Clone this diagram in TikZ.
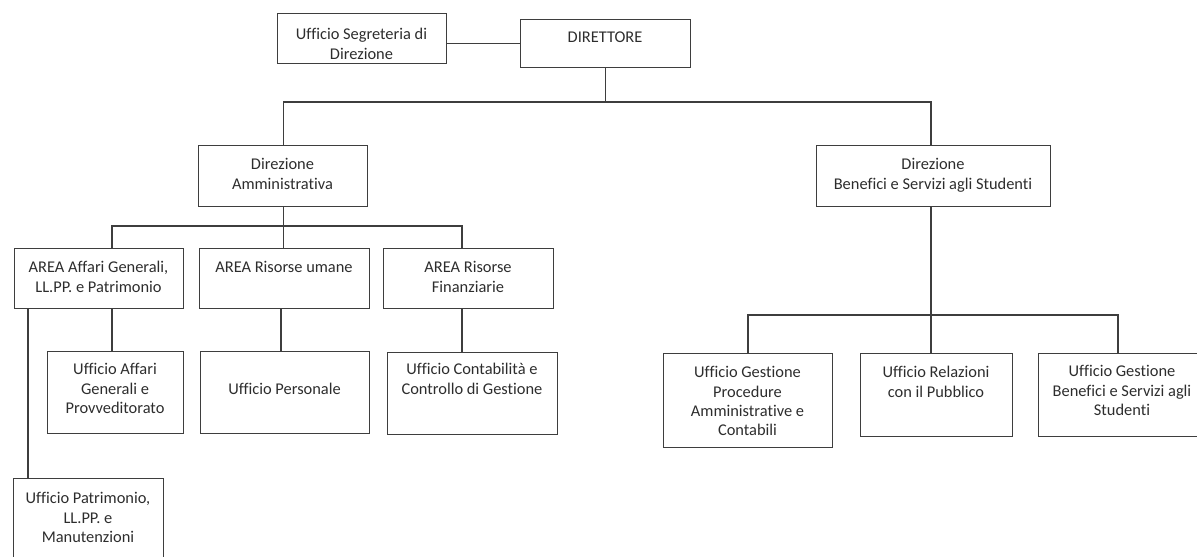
\documentclass[tikz,border=0pt]{standalone}
\usepackage{fontspec}
\setmainfont{Carlito}[Ligatures=NoCommon]
\newlength\pxu
\setlength\pxu{0.75pt}
\definecolor{linec}{RGB}{62,62,62}
\definecolor{txtc}{RGB}{45,45,45}
\begin{document}
\begin{tikzpicture}[x=0.75pt,y=-0.75pt,
  box/.style={draw=linec, line width=1.1pt, inner sep=0pt, anchor=north west},
  lbl/.style={text=txtc, inner sep=0pt, anchor=north, align=center, font=\fontsize{12.3}{14.6}\selectfont},
  conn/.style={draw=linec, line width=1.1pt}]
\useasboundingbox (0,0) rectangle (1197,557);
\clip (0,0) rectangle (1197,557);
% boxes
\node[box, minimum width=169\pxu, minimum height=50\pxu] (seg) at (277,13) {};
\node[box, minimum width=170\pxu, minimum height=48\pxu] (dir) at (520,19) {};
\node[box, minimum width=169\pxu, minimum height=61\pxu] (dam) at (198,145) {};
\node[box, minimum width=234\pxu, minimum height=61\pxu] (dbs) at (816,145) {};
\node[box, minimum width=169\pxu, minimum height=60\pxu] (aag) at (14,248) {};
\node[box, minimum width=170\pxu, minimum height=60\pxu] (aru) at (199,248) {};
\node[box, minimum width=170\pxu, minimum height=60\pxu] (arf) at (383,248) {};
\node[box, minimum width=136\pxu, minimum height=82\pxu] (uag) at (47,351) {};
\node[box, minimum width=169\pxu, minimum height=82\pxu] (upe) at (200,351) {};
\node[box, minimum width=170\pxu, minimum height=82\pxu] (uco) at (387,352) {};
\node[box, minimum width=150\pxu, minimum height=92\pxu] (upa) at (13,478) {};
\node[box, minimum width=169\pxu, minimum height=94\pxu] (ugp) at (663,353) {};
\node[box, minimum width=152\pxu, minimum height=83\pxu] (urp) at (860,353) {};
\node[box, minimum width=168\pxu, minimum height=83\pxu] (ugb) at (1038,353) {};
% labels
\node[lbl] (segT) at (361.5,28) {Ufficio Segreteria di\\Direzione};
\node[lbl] (dirT) at (605,32) {DIRETTORE};
\node[lbl] (damT) at (282.5,158) {Direzione\\Amministrativa};
\node[lbl] (dbsT) at (933,158) {Direzione\\Benefici e Servizi agli Studenti};
\node[lbl] (aagT) at (98.5,261) {AREA Affari Generali,\\LL.PP. e Patrimonio};
\node[lbl] (aruT) at (284,261) {AREA Risorse umane};
\node[lbl] (arfT) at (468,261) {AREA Risorse\\Finanziarie};
\node[lbl] (uagT) at (115,363) {Ufficio Affari\\Generali e\\Provveditorato};
\node[lbl] (upeT) at (284.5,383) {Ufficio Personale};
\node[lbl] (ucoT) at (472,363) {Ufficio Contabilità e\\Controllo di Gestione};
\node[lbl] (upaT) at (88,492) {Ufficio Patrimonio,\\LL.PP. e\\Manutenzioni};
\node[lbl] (ugpT) at (747.5,366) {Ufficio Gestione\\Procedure\\Amministrative e\\Contabili};
\node[lbl] (urpT) at (936,366) {Ufficio Relazioni\\con il Pubblico};
\node[lbl] (ugbT) at (1122,365) {Ufficio Gestione\\Benefici e Servizi agli\\Studenti};
% helper coordinates
\coordinate (y1) at (0,102);
\coordinate (y2) at (0,226);
\coordinate (y3) at (0,315);
\coordinate (xa) at (112,0);
\coordinate (xp) at (28,0);
\coordinate (xr) at (281,0);
\coordinate (xf) at (462,0);
\coordinate (xb) at (931,0);
\coordinate (xg) at (748,0);
\coordinate (xs) at (1118,0);
% connectors
\draw[conn] (dir.west -| seg.east) -- (dir.west);
\draw[conn] (dir.south) -- (dir.south |- y1);
\draw[conn] (dam.north) -- (dam.north |- y1) -- (xb |- y1) -- (xb |- dbs.north);
\draw[conn] (dam.south) -- (dam.south |- aru.north);
\draw[conn] (xa |- aag.north) -- (xa |- y2) -- (xf |- y2) -- (xf |- arf.north);
\draw[conn] (xa |- aag.south) -- (xa |- uag.north);
\draw[conn] (xp |- aag.south) -- (xp |- upa.north);
\draw[conn] (xr |- aru.south) -- (xr |- upe.north);
\draw[conn] (xf |- arf.south) -- (xf |- uco.north);
\draw[conn] (xb |- dbs.south) -- (xb |- urp.north);
\draw[conn] (xg |- ugp.north) -- (xg |- y3) -- (xs |- y3) -- (xs |- ugb.north);
\end{tikzpicture}
\end{document}
